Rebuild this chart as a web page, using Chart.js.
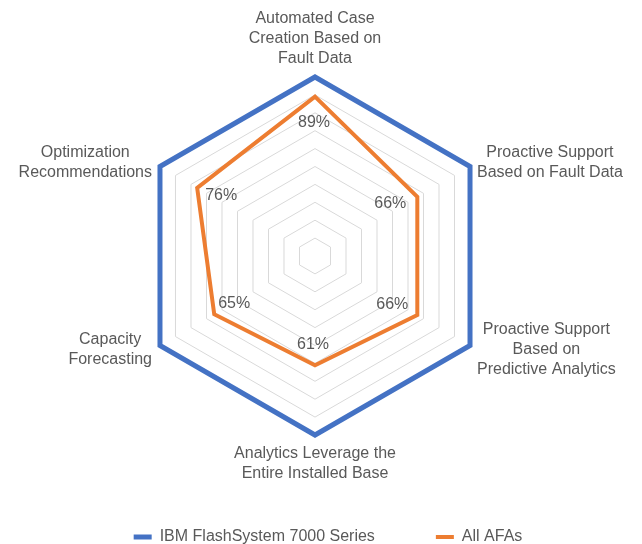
<!DOCTYPE html>
<html>
<head>
<meta charset="utf-8">
<script src="https://cdn.jsdelivr.net/npm/chart.js@4/dist/chart.umd.min.js"></script>
<style>
  html, body { margin: 0; padding: 0; background: #fff; }
  #wrap { width: 642px; height: 544px; position: relative; }
</style>
</head>
<body>
<div id="wrap"><canvas id="grafico"></canvas></div>
<script>
// categorias (cada uma em várias linhas, como no original)
const categorias = [
  ['Automated Case', 'Creation Based on', 'Fault Data'],
  ['Proactive Support', 'Based on Fault Data'],
  ['Proactive Support', 'Based on', 'Predictive Analytics'],
  ['Analytics Leverage the', 'Entire Installed Base'],
  ['Capacity', 'Forecasting'],
  ['Optimization', 'Recommendations']
];

// séries
const ibmFlashSystem = [100, 100, 100, 100, 100, 100];
const todosAFAs = [89, 66, 66, 61, 65, 76];

const nomesSeries = ['IBM FlashSystem 7000 Series', 'All AFAs'];

// deslocamento dos rótulos de dados (px) em relação ao ponto
const deslocRotulos = [[-1, 26], [-27, 7], [-25, -10], [-2, -21], [20, -11], [24, 8]];

const corTexto = '#595959';
const fonte = '16px "Liberation Sans", Arial, sans-serif';

// rótulos das categorias centralizados (o Chart.js alinha à esquerda/direita)
const rotulosEixos = {
  id: 'rotulosEixos',
  afterDraw(chart) {
    const scale = chart.scales.r;
    const ctx = chart.ctx;
    const alturaLinha = 20;
    ctx.save();
    ctx.font = fonte;
    ctx.fillStyle = corTexto;
    ctx.textAlign = 'center';
    ctx.textBaseline = 'middle';
    categorias.forEach((linhas, i) => {
      const p = scale.getPointPosition(i, scale.drawingArea);
      const larg = Math.max(...linhas.map(l => ctx.measureText(l).width));
      const n = linhas.length;
      let cx = p.x, cy;
      const c = Math.cos(p.angle);
      if (Math.abs(c) < 0.01) {
        if (p.y < scale.yCenter) cy = p.y - 18 - (n - 1) * alturaLinha; // topo
        else cy = p.y + 19;                                               // base
      } else {
        cx = c > 0 ? p.x + 7 + larg / 2 : p.x - 8 - larg / 2;
        cy = p.y - (n - 1) * alturaLinha / 2 + (p.y < scale.yCenter ? -4 : 4);
      }
      linhas.forEach((l, k) => ctx.fillText(l, cx, cy + k * alturaLinha));
    });
    ctx.restore();
  }
};

// plugin simples pra escrever os valores da série laranja
const rotulosDados = {
  id: 'rotulosDados',
  afterDatasetsDraw(chart) {
    const ctx = chart.ctx;
    const meta = chart.getDatasetMeta(1);
    ctx.save();
    ctx.font = fonte;
    ctx.fillStyle = corTexto;
    ctx.textAlign = 'center';
    ctx.textBaseline = 'middle';
    meta.data.forEach((pt, i) => {
      const d = deslocRotulos[i];
      ctx.fillText(todosAFAs[i] + '%', pt.x + d[0], pt.y + d[1]);
    });
    ctx.restore();
  }
};

// empurra a legenda um pouco pra baixo/direita depois do layout
const ajusteLegenda = {
  id: 'ajusteLegenda',
  afterLayout(chart) {
    const lg = chart.legend;
    const dx = 13, dy = 33;
    lg.left += dx; lg.right += dx;
    lg.top += dy; lg.bottom += dy;
  }
};

const ctx = document.getElementById('grafico').getContext('2d');

new Chart(ctx, {
  type: 'radar',
  data: {
    labels: categorias,
    datasets: [
      {
        label: nomesSeries[0],
        data: ibmFlashSystem,
        borderColor: '#4472C4',
        backgroundColor: '#4472C4',
        borderWidth: 5,
        pointRadius: 0,
        fill: false
      },
      {
        label: nomesSeries[1],
        data: todosAFAs,
        borderColor: '#ED7D31',
        backgroundColor: '#ED7D31',
        borderWidth: 4,
        pointRadius: 0,
        fill: false
      }
    ]
  },
  options: {
    responsive: true,
    maintainAspectRatio: false,
    animation: false,
    layout: { padding: { top: 77, bottom: 22, left: 0, right: 12 } },
    elements: { line: { tension: 0, borderJoinStyle: 'miter' } },
    scales: {
      r: {
        min: 0,
        max: 100,
        ticks: { display: false, stepSize: 10 },
        grid: { color: '#d9d9d9', lineWidth: 1 },
        angleLines: { display: false },
        pointLabels: { display: false }
      }
    },
    plugins: {
      legend: {
        position: 'bottom',
        labels: {
          usePointStyle: true,
          pointStyle: 'line',
          pointStyleWidth: 18,
          color: corTexto,
          font: { family: '"Liberation Sans", Arial, sans-serif', size: 16 },
          padding: 61
        }
      },
      tooltip: { enabled: false }
    }
  },
  plugins: [rotulosEixos, rotulosDados, ajusteLegenda]
});
</script>
</body>
</html>
